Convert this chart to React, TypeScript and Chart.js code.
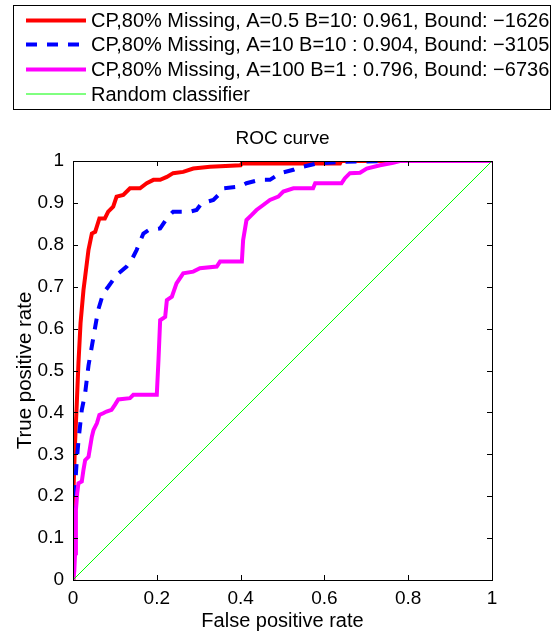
import React, { useEffect, useRef } from "react";
import { Chart, registerables } from "chart.js";

Chart.register(...registerables);

const redX = [0, 0, 0.002, 0.005, 0.009, 0.013, 0.018, 0.025, 0.029, 0.037, 0.045, 0.053, 0.063, 0.076, 0.084, 0.096, 0.104, 0.12, 0.136, 0.16, 0.176, 0.192, 0.208, 0.224, 0.239, 0.263, 0.287, 0.327, 0.4, 0.403, 0.637, 0.64, 1];
const redY = [0, 0.12, 0.21, 0.33, 0.42, 0.517, 0.613, 0.692, 0.724, 0.788, 0.827, 0.831, 0.863, 0.863, 0.879, 0.891, 0.915, 0.919, 0.935, 0.935, 0.947, 0.955, 0.955, 0.962, 0.971, 0.974, 0.982, 0.986, 0.99, 0.994, 0.994, 1, 1];

const blueX = [0, 0, 0.002, 0.005, 0.009, 0.014, 0.021, 0.029, 0.037, 0.049, 0.06, 0.072, 0.084, 0.104, 0.128, 0.14, 0.152, 0.168, 0.18, 0.208, 0.224, 0.239, 0.279, 0.295, 0.307, 0.335, 0.351, 0.359, 0.399, 0.414, 0.446, 0.47, 0.494, 0.526, 0.538, 0.582, 0.637, 0.757, 1];
const blueY = [0, 0.1, 0.183, 0.223, 0.286, 0.342, 0.406, 0.446, 0.512, 0.581, 0.644, 0.684, 0.7, 0.728, 0.748, 0.764, 0.788, 0.827, 0.835, 0.839, 0.863, 0.879, 0.879, 0.883, 0.899, 0.907, 0.923, 0.935, 0.939, 0.947, 0.955, 0.955, 0.971, 0.979, 0.984, 0.994, 0.998, 1, 1];

const magentaX = [0, 0.003, 0.005, 0.007, 0.01, 0.013, 0.021, 0.025, 0.029, 0.037, 0.041, 0.045, 0.049, 0.057, 0.063, 0.072, 0.08, 0.092, 0.1, 0.108, 0.136, 0.144, 0.2, 0.204, 0.208, 0.22, 0.224, 0.236, 0.247, 0.263, 0.287, 0.303, 0.343, 0.351, 0.403, 0.406, 0.414, 0.426, 0.438, 0.454, 0.47, 0.49, 0.502, 0.526, 0.573, 0.578, 0.641, 0.649, 0.661, 0.685, 0.701, 0.733, 0.764, 0.78, 1];
const magentaY = [0, 0.02, 0.064, 0.167, 0.207, 0.231, 0.235, 0.263, 0.286, 0.294, 0.318, 0.342, 0.358, 0.374, 0.394, 0.398, 0.402, 0.406, 0.418, 0.431, 0.434, 0.442, 0.442, 0.525, 0.62, 0.628, 0.668, 0.676, 0.708, 0.732, 0.736, 0.744, 0.748, 0.76, 0.76, 0.811, 0.859, 0.871, 0.883, 0.895, 0.907, 0.915, 0.927, 0.935, 0.935, 0.947, 0.947, 0.959, 0.971, 0.972, 0.982, 0.99, 0.996, 1, 1];

const randomX = [0, 1];
const randomY = [0, 1];

const seriesLabels = [
  "CP,80% Missing, A=0.5 B=10: 0.961, Bound: \u22121626",
  "CP,80% Missing, A=10 B=10 : 0.904, Bound: \u22123105",
  "CP,80% Missing, A=100 B=1 : 0.796, Bound: \u22126736",
  "Random classifier",
];

const xTickLabels = ["0", "0.2", "0.4", "0.6", "0.8", "1"];
const yTickLabels = ["0", "0.1", "0.2", "0.3", "0.4", "0.5", "0.6", "0.7", "0.8", "0.9", "1"];

const titleText = "ROC curve";
const xTitle = "False positive rate";
const yTitle = "True positive rate";

const FONT = "'Liberation Sans', Arial, Helvetica, sans-serif";
const FS = 19;
const LEGEND_FS = 20;

const zip = (xs: number[], ys: number[]) => xs.map((x, i) => ({ x, y: ys[i] }));

const frameAndLegend = {
  id: "frameAndLegend",
  afterDraw(chart: any) {
    const ctx = chart.ctx;
    const { left, right, top, bottom } = chart.chartArea;
    const xs = chart.scales.x;
    const ys = chart.scales.y;
    ctx.save();
    ctx.strokeStyle = "#000";
    ctx.lineWidth = 1;
    ctx.strokeRect(Math.round(left) + 0.5, Math.round(top) + 0.5, Math.round(right - left), Math.round(bottom - top));
    const tl = 5;
    ctx.beginPath();
    xs.ticks.forEach((t: any) => {
      const px = Math.round(xs.getPixelForValue(t.value)) + 0.5;
      ctx.moveTo(px, bottom);
      ctx.lineTo(px, bottom - tl);
      ctx.moveTo(px, top);
      ctx.lineTo(px, top + tl);
    });
    ys.ticks.forEach((t: any) => {
      const py = Math.round(ys.getPixelForValue(t.value)) + 0.5;
      ctx.moveTo(left, py);
      ctx.lineTo(left + tl, py);
      ctx.moveTo(right, py);
      ctx.lineTo(right - tl, py);
    });
    ctx.stroke();

    // legend
    const bx = 13.5, by = 5.5, bw = 537, bh = 104;
    ctx.fillStyle = "#fff";
    ctx.fillRect(bx, by, bw, bh);
    ctx.strokeStyle = "#000";
    ctx.lineWidth = 1;
    ctx.strokeRect(bx, by, bw, bh);
    const rows = [20.5, 44.5, 69.5, 94];
    chart.data.datasets.forEach((ds: any, i: number) => {
      const y = rows[i];
      ctx.save();
      ctx.strokeStyle = ds.borderColor;
      ctx.lineWidth = ds.borderWidth;
      ctx.setLineDash(ds.borderDash || []);
      ctx.beginPath();
      ctx.moveTo(26, y);
      ctx.lineTo(86, y);
      ctx.stroke();
      ctx.restore();
      ctx.fillStyle = "#000";
      ctx.font = `${LEGEND_FS}px ${FONT}`;
      ctx.textBaseline = "middle";
      ctx.textAlign = "left";
      ctx.fillText(ds.label, 91, y + 1);
    });
    ctx.restore();
  },
};

export default function App() {
  const ref = useRef<HTMLCanvasElement | null>(null);
  useEffect(() => {
    document.body.style.margin = "0";
    const canvas = ref.current!;
    const chart = new Chart(canvas, {
      type: "line",
      data: {
        datasets: [
          {
            label: seriesLabels[0],
            data: zip(redX, redY),
            borderColor: "#ff0000",
            borderWidth: 4,
            pointRadius: 0,
            fill: false,
            order: 4,
          },
          {
            label: seriesLabels[1],
            data: zip(blueX, blueY),
            borderColor: "#0000ff",
            borderWidth: 4,
            borderDash: [11, 10],
            pointRadius: 0,
            fill: false,
            order: 3,
          },
          {
            label: seriesLabels[2],
            data: zip(magentaX, magentaY),
            borderColor: "#ff00ff",
            borderWidth: 4,
            pointRadius: 0,
            fill: false,
            order: 2,
          },
          {
            label: seriesLabels[3],
            data: zip(randomX, randomY),
            borderColor: "#00ff00",
            borderWidth: 1,
            pointRadius: 0,
            fill: false,
            order: 1,
          },
        ],
      },
      options: {
        responsive: false,
        animation: false,
        devicePixelRatio: 1,
        layout: { padding: { left: 0, right: 63, top: 0, bottom: 0 } },
        plugins: {
          legend: { display: false },
          tooltip: { enabled: false },
          title: {
            display: true,
            fullSize: false,
            text: titleText,
            color: "#000",
            font: { family: FONT, size: FS, weight: "normal" },
            padding: { top: 127, bottom: 161 - 127 - FS * 1.2 },
          },
        },
        scales: {
          x: {
            type: "linear",
            min: 0,
            max: 1,
            ticks: {
              stepSize: 0.2,
              color: "#000",
              padding: 7,
              maxRotation: 0,
              font: { family: FONT, size: FS },
              callback: (_v: any, i: number) => xTickLabels[i],
            },
            grid: { display: false, drawTicks: false },
            border: { display: false },
            title: {
              display: true,
              text: xTitle,
              color: "#000",
              font: { family: FONT, size: 20 },
              padding: { top: 0, bottom: 2 },
            },
            afterFit: (s: any) => {
              s.height = 55;
            },
          },
          y: {
            type: "linear",
            min: 0,
            max: 1,
            ticks: {
              stepSize: 0.1,
              color: "#000",
              padding: 9,
              font: { family: FONT, size: FS },
              callback: (_v: any, i: number) => yTickLabels[i],
            },
            grid: { display: false, drawTicks: false },
            border: { display: false },
            title: {
              display: true,
              text: yTitle,
              color: "#000",
              font: { family: FONT, size: 20.5 },
              padding: { top: 13, bottom: 0 },
            },
            afterFit: (s: any) => {
              s.width = 73;
            },
          },
        },
      },
      plugins: [frameAndLegend],
    });
    return () => chart.destroy();
  }, []);
  return (
    <div style={{ width: 555, height: 635 }}>
      <canvas ref={ref} width={555} height={635} style={{ display: "block" }} />
    </div>
  );
}
